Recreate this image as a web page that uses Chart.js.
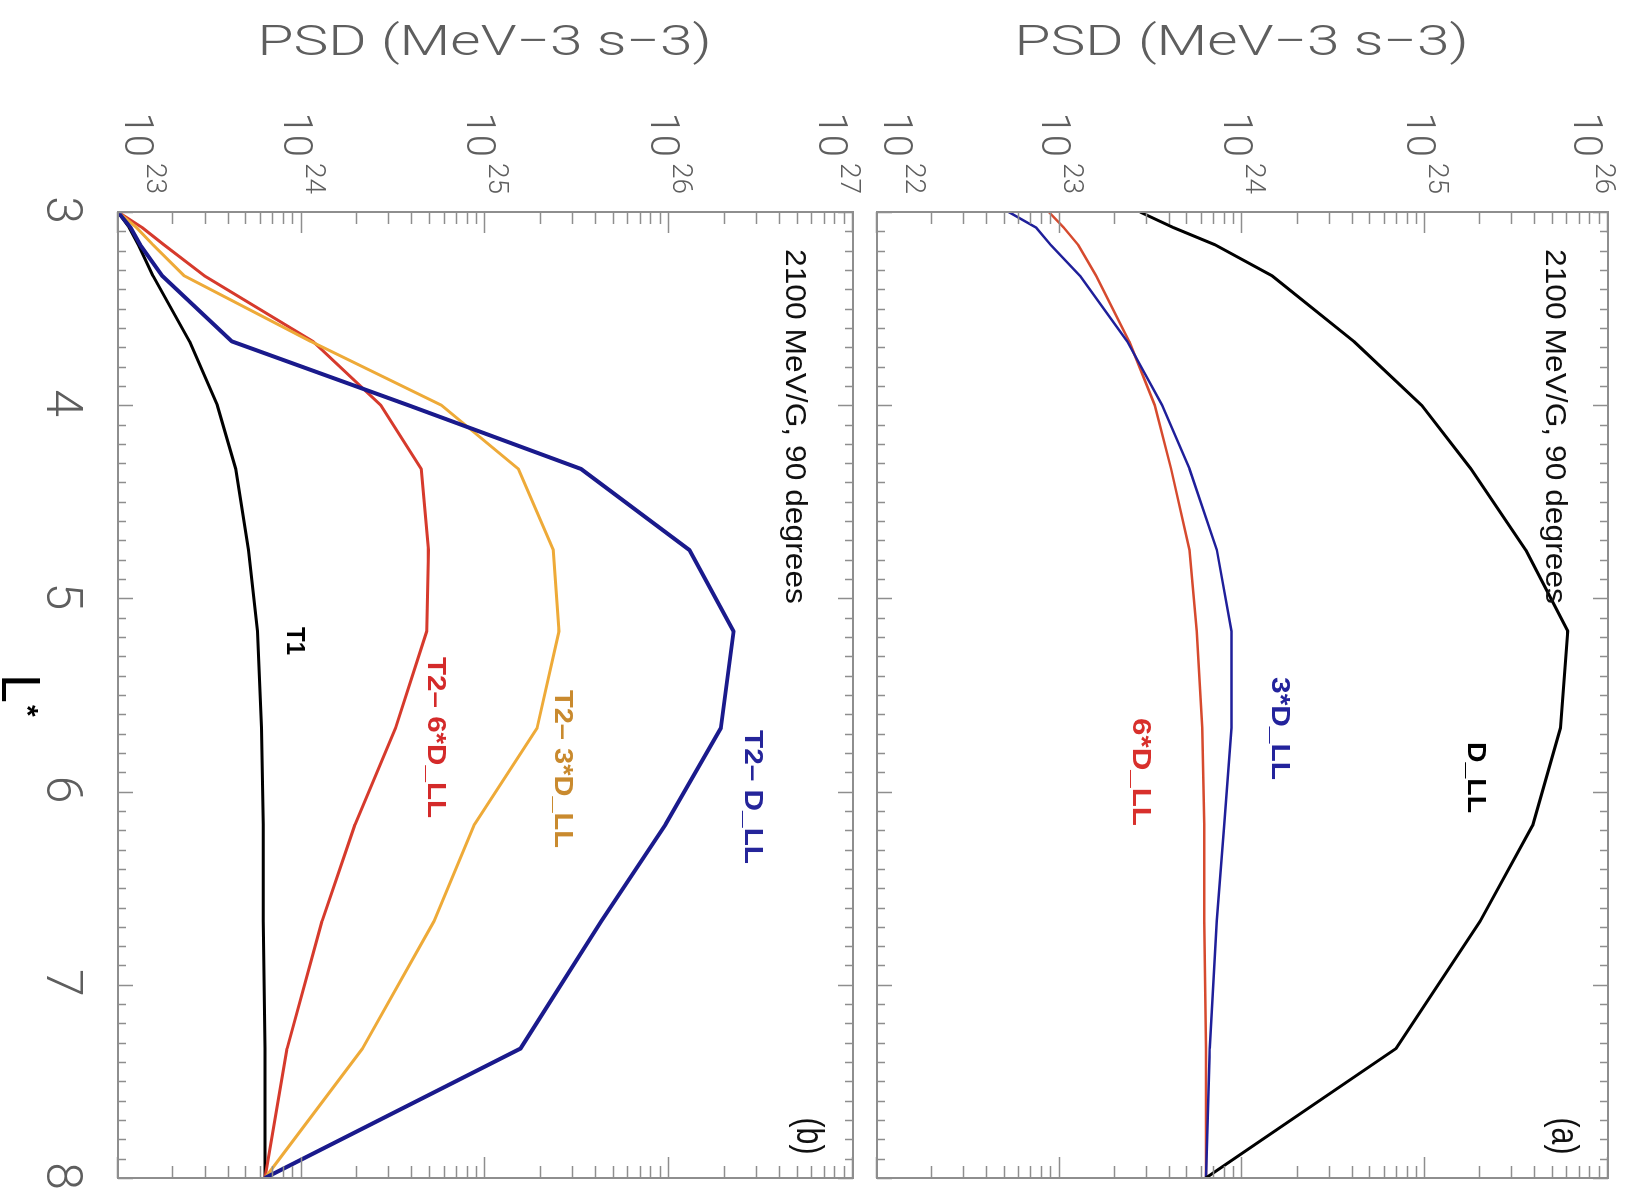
<!DOCTYPE html>
<html>
<head>
<meta charset="utf-8">
<title>PSD vs L*</title>
<script src="https://cdn.jsdelivr.net/npm/chart.js@4.4.1/dist/chart.umd.min.js"></script>
<style>
    html, body { margin: 0; padding: 0; background: #fff; overflow: hidden; }
    /* the figure is laid out upright, then turned a quarter turn clockwise */
    #page {
        position: absolute; left: 0; top: 0;
        width: 1197px; height: 1636px;
        transform-origin: 0 0;
        transform: translate(1636px, 0) rotate(90deg);
        background: #fff;
    }
    #page canvas { position: absolute; left: 0; }
</style>
</head>
<body>
<div id="page">
    <canvas id="panelA" width="1197" height="771" style="top:0"></canvas>
    <canvas id="panelB" width="1197" height="865" style="top:771px"></canvas>
</div>
<script>
// L* grid shared by every curve
const lStar = [3, 3.08, 3.17, 3.33, 3.67, 4, 4.33, 4.75, 5.17, 5.67, 6.17, 6.67, 7.33, 8];

// panel (a): steady-state PSD for three radial diffusion rates
const psdDll  = [2.75e23, 4.17e23, 7.08e23, 1.45e24, 4.07e24, 9.55e24, 1.78e25, 3.55e25, 6.03e25, 5.50e25, 3.89e25, 2.00e25, 6.92e24, 6.31e23];
const psd3Dll = [5.25e22, 7.41e22, 8.91e22, 1.29e23, 2.34e23, 3.63e23, 5.13e23, 7.24e23, 8.71e23, 8.71e23, 7.94e23, 7.24e23, 6.61e23, 6.31e23];
const psd6Dll = [8.71e22, 1.05e23, 1.26e23, 1.58e23, 2.40e23, 3.31e23, 4.07e23, 5.13e23, 5.62e23, 6.03e23, 6.17e23, 6.17e23, 6.31e23, 6.31e23];

// panel (b): T1 and the T2 runs
const psdT1     = [1.00e23, 1.15e23, 1.29e23, 1.55e23, 2.45e23, 3.47e23, 4.37e23, 5.13e23, 5.75e23, 6.03e23, 6.17e23, 6.17e23, 6.31e23, 6.31e23];
const psdT2Dll  = [1.00e23, 1.17e23, 1.32e23, 1.74e23, 4.17e23, 3.80e24, 3.31e25, 1.29e26, 2.24e26, 1.91e26, 9.55e25, 4.27e25, 1.55e25, 6.31e23];
const psdT23Dll = [1.00e23, 1.26e23, 1.55e23, 2.29e23, 1.12e24, 5.75e24, 1.51e25, 2.34e25, 2.51e25, 1.91e25, 8.71e24, 5.25e24, 2.14e24, 6.31e23];
const psdT26Dll = [1.00e23, 1.35e23, 1.78e23, 2.95e23, 1.15e24, 2.69e24, 4.47e24, 4.90e24, 4.79e24, 3.24e24, 1.95e24, 1.29e24, 8.32e23, 6.31e23];

// tick labels
const lTicks = [3, 4, 5, 6, 7, 8];
const decadesA = [22, 23, 24, 25, 26];
const decadesB = [23, 24, 25, 26, 27];

const AXIS_GREY = '#8e8e8e';
const LABEL_GREY = '#5e5e5e';
const THIN = '300 ';
const SANS = '"Roboto", "DejaVu Sans", sans-serif';
const ARIAL = '"Liberation Sans", Arial, sans-serif';

// Build one line dataset from a value array
function series(values, color, width) {
    return {
        data: lStar.map((l, i) => ({ x: l, y: values[i] })),
        borderColor: color,
        borderWidth: width,
        pointRadius: 0,
        tension: 0,
        fill: false,
        borderJoinStyle: 'round'
    };
}

// Draw text squeezed/stretched to a given width
function fitText(ctx, text, x, y, width, align) {
    const w = ctx.measureText(text).width;
    const sx = width ? width / w : 1;
    ctx.save();
    ctx.translate(x, y);
    ctx.scale(sx, 1);
    ctx.textAlign = align || 'left';
    ctx.fillText(text, 0, 0);
    ctx.restore();
}

// IDL-style frame: box, inward ticks on all sides, labels and annotations
const idlFrame = {
    id: 'idlFrame',
    afterDatasetsDraw(chart, args, opts) {
        const { ctx, chartArea, scales } = chart;
        const { left, right, top, bottom } = chartArea;
        const xs = scales.x, ys = scales.y;
        ctx.save();

        // box
        ctx.strokeStyle = AXIS_GREY;
        ctx.lineWidth = 2;
        ctx.strokeRect(left, top, right - left, bottom - top);

        // L* ticks, top and bottom edges
        ctx.lineWidth = 1.5;
        for (let k = 0; k <= 50; k++) {
            const u = Math.round(xs.getPixelForValue(3 + k / 10)) + 0.5;
            const len = k % 10 === 0 ? 15 : 8;
            ctx.beginPath();
            ctx.moveTo(u, bottom); ctx.lineTo(u, bottom - len);
            ctx.moveTo(u, top); ctx.lineTo(u, top + len);
            ctx.stroke();
        }

        // logarithmic ticks, left and right edges
        const decades = opts.decades;
        for (let d = 0; d < decades.length; d++) {
            for (let m = 1; m <= 9; m++) {
                if (d === decades.length - 1 && m > 1) break;
                const v = Math.round(ys.getPixelForValue(m * Math.pow(10, decades[d]))) + 0.5;
                const len = m === 1 ? 21 : 12;
                ctx.beginPath();
                ctx.moveTo(left, v); ctx.lineTo(left + len, v);
                ctx.moveTo(right, v); ctx.lineTo(right - len, v);
                ctx.stroke();
            }
        }

        // 10^n labels to the left of the box
        ctx.fillStyle = LABEL_GREY;
        ctx.textBaseline = 'alphabetic';
        decades.forEach(e => {
            const v = ys.getPixelForValue(Math.pow(10, e));
            const mid = Math.min(Math.max(v + 4, top + 20), bottom - 21);
            ctx.font = THIN + '28px ' + SANS;
            ctx.textAlign = 'right';
            const expW = ctx.measureText(String(e)).width;
            ctx.fillText(String(e), 194, mid - 8);
            ctx.font = THIN + '40px ' + SANS;
            ctx.fillText('10', 194 - expW - 6, mid + 14);
        });

        // axis title, turned to run along the value axis
        ctx.save();
        ctx.font = THIN + '42px ' + SANS;
        ctx.translate(55, (top + bottom) / 2 + 1);
        ctx.rotate(-Math.PI / 2);
        fitText(ctx, 'PSD (MeV\u22123 s\u22123)', 0, 0, 454, 'center');
        ctx.restore();

        // energy / pitch angle note and panel tag
        ctx.fillStyle = '#111';
        ctx.font = '30px ' + ARIAL;
        fitText(ctx, '2100 MeV/G, 90 degrees', 249, top + opts.noteOffset, 355, 'left');
        ctx.font = '38px ' + ARIAL;
        fitText(ctx, opts.tag, 1136, top + 56, 37, 'center');

        // curve labels
        ctx.font = 'bold 26px ' + ARIAL;
        opts.curveLabels.forEach(c => {
            ctx.fillStyle = c.color;
            fitText(ctx, c.text, c.u0, c.v + 9, c.u1 - c.u0, 'left');
        });

        // L* axis numbers and title on the lower panel only
        if (opts.lAxis) {
            ctx.fillStyle = LABEL_GREY;
            ctx.font = THIN + '50px ' + SANS;
            ctx.textAlign = 'center';
            lTicks.forEach(l => {
                ctx.fillText(String(l), xs.getPixelForValue(l) - 2, bottom + 71);
            });
            ctx.fillStyle = '#000';
            ctx.font = '400 53px ' + SANS;
            ctx.textAlign = 'left';
            ctx.fillText('L', 674, bottom + 116);
            ctx.font = 'bold 30px ' + ARIAL;
            ctx.fillText('*', 705, bottom + 100);
        }
        ctx.restore();
    }
};

function makePanel(id, datasets, yMin, yMax, padding, frameOpts) {
    return new Chart(document.getElementById(id), {
        type: 'line',
        data: { datasets },
        options: {
            responsive: false,
            animation: false,
            events: [],
            layout: { padding },
            plugins: {
                legend: { display: false },
                tooltip: { enabled: false },
                idlFrame: frameOpts
            },
            scales: {
                x: { type: 'linear', min: 3, max: 8, display: false },
                y: { type: 'logarithmic', min: yMin, max: yMax, display: false }
            }
        },
        plugins: [idlFrame]
    });
}

// panel (a)
makePanel('panelA', [
    series(psdDll, '#000000', 3),
    series(psd3Dll, '#1f1f9a', 2.5),
    series(psd6Dll, '#d64a2e', 2.5)
], 1e22, 1e26, { left: 212, right: 19, top: 28, bottom: 12 }, {
    decades: decadesA,
    tag: '(a)',
    lAxis: false,
    noteOffset: 62,
    curveLabels: [
        { text: 'D_LL', color: '#000', u0: 742, u1: 813, v: 159 },
        { text: '3*D_LL', color: '#23239c', u0: 677, u1: 780, v: 355 },
        { text: '6*D_LL', color: '#d8302c', u0: 718, u1: 826, v: 494 }
    ]
});

// panel (b)
makePanel('panelB', [
    series(psdT2Dll, '#1a1a8c', 4),
    series(psdT23Dll, '#eeaa38', 3),
    series(psdT26Dll, '#d63a2c', 3),
    series(psdT1, '#000000', 3)
], 1e23, 1e27, { left: 212, right: 19, top: 12, bottom: 118 }, {
    decades: decadesB,
    tag: '(b)',
    lAxis: true,
    noteOffset: 67,
    curveLabels: [
        { text: 'T1', color: '#000', u0: 627, u1: 655, v: 569 },
        { text: 'T2\u2013 6*D_LL', color: '#d42a2a', u0: 657, u1: 818, v: 428 },
        { text: 'T2\u2013 3*D_LL', color: '#c98a2e', u0: 690, u1: 848, v: 301 },
        { text: 'T2\u2013 D_LL', color: '#25259a', u0: 730, u1: 864, v: 111 }
    ]
});
</script>
</body>
</html>
